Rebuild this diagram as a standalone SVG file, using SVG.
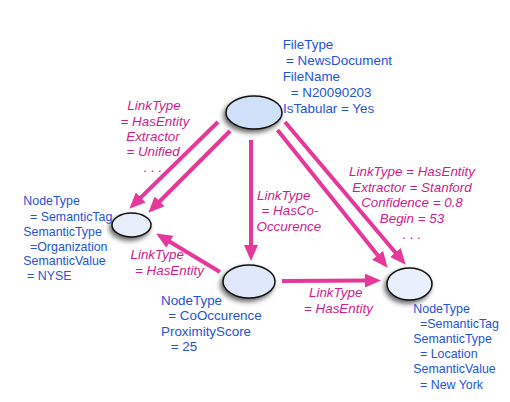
<svg xmlns="http://www.w3.org/2000/svg" width="510" height="402" viewBox="0 0 510 402">
<defs>
<style>
.b{font-family:"Liberation Sans",Arial,sans-serif;font-size:13.4px;fill:#2553d8}
.s{font-size:12.4px}
.m{font-family:"Liberation Sans",Arial,sans-serif;font-size:13.4px;font-style:italic;fill:#cc1d8c}
.c{text-anchor:middle}
.e{stroke:#111;stroke-width:1.5}
.a{stroke:#e6379a;stroke-width:4;fill:none;marker-end:url(#ah)}
</style>
<filter id="sh" x="-50%" y="-50%" width="200%" height="200%">
<feDropShadow dx="-2" dy="3" stdDeviation="2.5" flood-color="#000" flood-opacity="0.6"/>
</filter>
<marker id="ah" viewBox="0 -7 16 14" markerWidth="16" markerHeight="14" refX="3" refY="0" orient="auto" markerUnits="userSpaceOnUse">
<path d="M0,-7 L16,0 L0,7 z" fill="#e6379a"/>
</marker>
</defs>
<g id="connectors">
<line class="a" x1="218" y1="122" x2="138.6" y2="199.6"/>
<line class="a" x1="230" y1="131" x2="157.5" y2="203.5"/>
<line class="a" x1="251" y1="140" x2="251" y2="248"/>
<line class="a" x1="285" y1="122" x2="397.3" y2="254.8"/>
<line class="a" x1="277.5" y1="130" x2="379.5" y2="257.6"/>
<line class="a" x1="220" y1="272" x2="167.3" y2="240.2"/>
<line class="a" x1="282" y1="281" x2="368" y2="280.6"/>
</g>
<g id="labels">
<text class="m c"><tspan x="154" y="110">LinkType</tspan><tspan x="155" y="126">= HasEntity</tspan><tspan x="153" y="141">Extractor</tspan><tspan x="153" y="156">= Unified</tspan><tspan x="153" y="172">. . .</tspan></text>
<text class="m"><tspan x="257" y="200">LinkType</tspan><tspan x="261.5" y="215">= HasCo-</tspan><tspan x="256.5" y="230.7">Occurence</tspan></text>
<text class="m c"><tspan x="412" y="175.7">LinkType = HasEntity</tspan><tspan x="412" y="191.7">Extractor = Stanford</tspan><tspan x="412" y="206.7">Confidence = 0.8</tspan><tspan x="412" y="222.7">Begin = 53</tspan><tspan x="412" y="239">. . .</tspan></text>
<text class="m"><tspan x="130.5" y="259">LinkType</tspan><tspan x="135" y="275">= HasEntity</tspan></text>
<text class="m"><tspan x="309" y="296.7">LinkType</tspan><tspan x="304" y="312.7">= HasEntity</tspan></text>
</g>
<g id="node-file">
<ellipse class="e" cx="254" cy="112.5" rx="28" ry="16.5" fill="#cfe0f9" filter="url(#sh)"/>
<text class="b"><tspan x="282.7" y="49">FileType</tspan><tspan x="286" y="65">= NewsDocument</tspan><tspan x="282.7" y="80.5">FileName</tspan><tspan x="290.7" y="96.7">= N20090203</tspan><tspan x="283" y="112.7">IsTabular = Yes</tspan></text>
</g>
<g id="node-nyse">
<ellipse class="e" cx="131.5" cy="225" rx="19.5" ry="12" fill="#e6eefc" filter="url(#sh)"/>
<text class="b s"><tspan x="23.3" y="205">NodeType</tspan><tspan x="30" y="220.5">= SemanticTag</tspan><tspan x="23.3" y="235.5">SemanticType</tspan><tspan x="30" y="250.5">=Organization</tspan><tspan x="23.3" y="265">SemanticValue</tspan><tspan x="27" y="280">= NYSE</tspan></text>
</g>
<g id="node-cooccurence">
<ellipse class="e" cx="249" cy="281.5" rx="26" ry="16.5" fill="#dfe9fb" filter="url(#sh)"/>
<text class="b"><tspan x="161" y="305">NodeType</tspan><tspan x="168.3" y="320">= CoOccurence</tspan><tspan x="161" y="335.7">ProximityScore</tspan><tspan x="170.7" y="350.7">= 25</tspan></text>
</g>
<g id="node-newyork">
<ellipse class="e" cx="409.5" cy="284" rx="22.5" ry="16" fill="#e8f0fd" filter="url(#sh)"/>
<text class="b s"><tspan x="413.3" y="313.3">NodeType</tspan><tspan x="420" y="328.3">=SemanticTag</tspan><tspan x="413.3" y="343.3">SemanticType</tspan><tspan x="420" y="358.3">= Location</tspan><tspan x="413.3" y="373.3">SemanticValue</tspan><tspan x="420" y="389.3">= New York</tspan></text>
</g>
</svg>
